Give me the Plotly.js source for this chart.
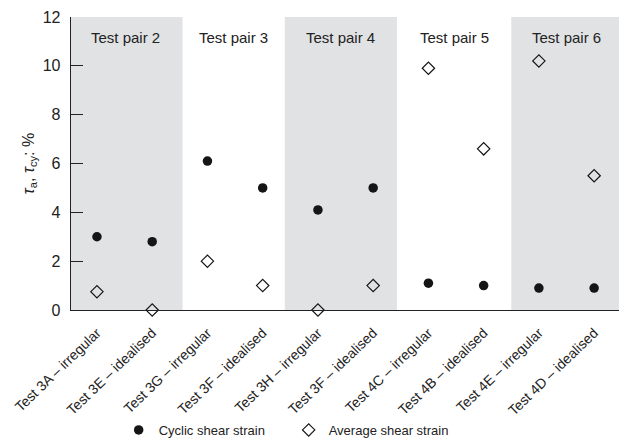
<!DOCTYPE html>
<html>
<head>
<meta charset="utf-8">
<script src="https://cdn.plot.ly/plotly-3.0.1.min.js"></script>
<style>html,body{margin:0;padding:0;background:#fff;}#chart{width:619px;height:445px;}</style>
</head>
<body>
<div id="chart"></div>
<script>
const testLabels = ["Test 3A – irregular","Test 3E – idealised","Test 3G – irregular","Test 3F – idealised","Test 3H – irregular","Test 3F – idealised","Test 4C – irregular","Test 4B – idealised","Test 4E – irregular","Test 4D – idealised"];
const cyclicStrain = [3.0, 2.8, 6.1, 5.0, 4.1, 5.0, 1.1, 1.0, 0.9, 0.9];
const averageStrain = [0.75, 0.0, 2.0, 1.0, 0.0, 1.0, 9.9, 6.6, 10.2, 5.5];
const pairLabels = ["Test pair 2","Test pair 3","Test pair 4","Test pair 5","Test pair 6"];
const pairBounds = [[-0.5,1.55],[1.55,3.4],[3.4,5.43],[5.43,7.5],[7.5,9.5]];
const shadedPairs = [true,false,true,false,true];

const idx = testLabels.map((_, i) => i);
const font = "Liberation Sans, Arial, sans-serif";

const traces = [
  {x: idx, y: cyclicStrain, type: "scatter", mode: "markers", name: "Cyclic shear strain",
   marker: {symbol: "circle", size: 9.5, color: "#151515"}, cliponaxis: false},
  {x: idx, y: averageStrain, type: "scatter", mode: "markers", name: "Average shear strain",
   marker: {symbol: "diamond-open", size: 9.5, color: "#151515", line: {width: 1.2, color: "#151515"}}, cliponaxis: false}
];

const shapes = [];
const annotations = [];
pairBounds.forEach((b, i) => {
  if (shadedPairs[i]) {
    shapes.push({type: "rect", xref: "x", yref: "paper", x0: b[0], x1: b[1], y0: 0, y1: 1,
      fillcolor: "#e1e2e4", line: {width: 0}, layer: "below"});
  }
  annotations.push({xref: "x", yref: "paper", x: (b[0] + b[1]) / 2, y: 0.93, text: pairLabels[i],
    showarrow: false, font: {family: font, size: 15, color: "#222"}, xanchor: "center", yanchor: "middle"});
});

const layout = {
  width: 619, height: 445,
  margin: {l: 71, r: 0, t: 17, b: 132},
  paper_bgcolor: "#fff", plot_bgcolor: "rgba(0,0,0,0)",
  font: {family: font, color: "#222"},
  showlegend: true,
  legend: {orientation: "h", x: 0.087, xanchor: "left", y: -0.41, yanchor: "middle",
    font: {family: font, size: 13, color: "#222"}, itemwidth: 30, tracegroupgap: 0,
    entrywidth: 125, entrywidthmode: "pixels",
    bgcolor: "rgba(0,0,0,0)"},
  xaxis: {range: [-0.47, 9.45], tickvals: idx, ticktext: testLabels, tickangle: -44,
    showgrid: false, zeroline: false, showline: true, linecolor: "#222", linewidth: 1.3,
    ticks: "outside", ticklen: 8, tickcolor: "rgba(0,0,0,0)", automargin: false,
    tickfont: {family: font, size: 14, color: "#222"}, fixedrange: true},
  yaxis: {range: [0, 12], tickvals: [0,2,4,6,8,10,12], showgrid: false, zeroline: false,
    showline: true, linecolor: "#222", linewidth: 1.3, ticks: "inside", ticklen: 12,
    tickcolor: "#222", tickwidth: 1.3, tickfont: {family: font, size: 16, color: "#222"},
    ticklabelstandoff: 6, automargin: false,
    title: {text: "<i>τ</i><sub>a</sub>, <i>τ</i><sub>cy</sub>: %", font: {family: font, size: 16, color: "#222"}, standoff: 4},
    fixedrange: true},
  shapes: shapes,
  annotations: annotations
};

Plotly.newPlot("chart", traces, layout, {displayModeBar: false, staticPlot: true});
</script>
</body>
</html>
